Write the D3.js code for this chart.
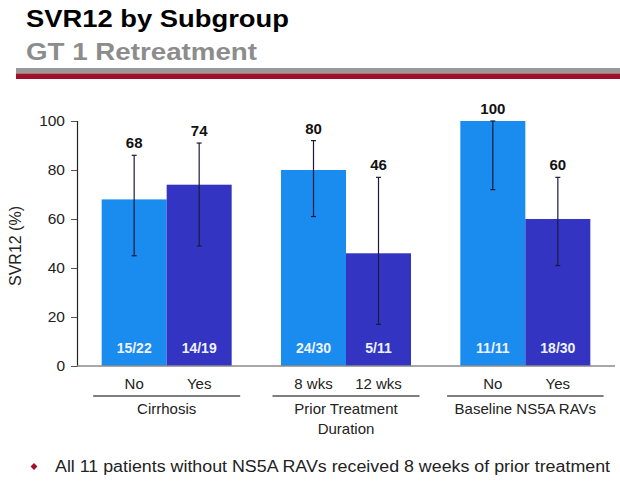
<!DOCTYPE html>
<html>
<head>
<meta charset="utf-8">
<script src="https://cdn.jsdelivr.net/npm/d3@7"></script>
<style>
html,body{margin:0;padding:0;background:#fff;}
svg{display:block;font-family:"Liberation Sans",Arial,sans-serif;}
</style>
</head>
<body>
<svg id="chart" width="620" height="488"></svg>
<script>
// ---- data ----
const groups = ["Cirrhosis", "Prior Treatment\nDuration", "Baseline NS5A RAVs"];
const subLabels = [["No", "Yes"], ["8 wks", "12 wks"], ["No", "Yes"]];
const svr = [[68, 74], [80, 46], [100, 60]];
const ciLow = [[45, 49], [61, 17], [72, 41]];
const ciHigh = [[86, 91], [92, 77], [100, 77]];
const counts = [["15/22", "14/19"], ["24/30", "5/11"], ["11/11", "18/30"]];
const yTicks = [0, 20, 40, 60, 80, 100];
const footnote = "All 11 patients without NS5A RAVs received 8 weeks of prior treatment";

const svg = d3.select("#chart");
const colors = ["#1a8cf0", "#3434c2"];

// title block
svg.append("text").attr("x", 26).attr("y", 27).attr("font-size", 24).attr("font-weight", "bold")
  .attr("fill", "#000").attr("textLength", 263).attr("lengthAdjust", "spacingAndGlyphs")
  .text("SVR12 by Subgroup");
svg.append("text").attr("x", 26).attr("y", 60).attr("font-size", 24).attr("font-weight", "bold")
  .attr("fill", "#8c8c8c").attr("textLength", 231).attr("lengthAdjust", "spacingAndGlyphs")
  .text("GT 1 Retreatment");
svg.append("rect").attr("x", 16).attr("y", 68).attr("width", 604).attr("height", 5.5).attr("fill", "#9a9a9a");
svg.append("rect").attr("x", 16).attr("y", 73.5).attr("width", 604).attr("height", 5.5).attr("fill", "#a0102a");

// scales
const y = d3.scaleLinear().domain([0, 100]).range([366, 121]);
const x0 = d3.scaleBand().domain(d3.range(groups.length)).range([77, 615]).paddingInner(0.275).paddingOuter(0.1375);
const x1 = d3.scaleBand().domain([0, 1]).range([0, x0.bandwidth()]);

// y axis
const yAxis = svg.append("g").attr("transform", "translate(77,0)")
  .call(d3.axisLeft(y).tickValues(yTicks).tickSize(6).tickPadding(6));
yAxis.select(".domain").attr("stroke", "#222").attr("stroke-width", 1.2);
yAxis.selectAll(".tick line").attr("stroke", "#555");
yAxis.selectAll("text").attr("font-size", 15.5).attr("fill", "#222").attr("font-family", "Liberation Sans, Arial, sans-serif");

svg.append("text").attr("transform", "translate(21,246) rotate(-90)").attr("text-anchor", "middle")
  .attr("font-size", 16).attr("fill", "#222").text("SVR12 (%)");

// bars
const gG = svg.selectAll("g.grp").data(groups).join("g").attr("class", "grp")
  .attr("transform", (d, i) => `translate(${x0(i)},0)`);

gG.each(function (g, gi) {
  const sel = d3.select(this);
  const items = svr[gi].map((v, j) => ({ v, j, lo: ciLow[gi][j], hi: ciHigh[gi][j], n: counts[gi][j], lab: subLabels[gi][j] }));
  sel.selectAll("rect.bar").data(items).join("rect").attr("class", "bar")
    .attr("x", d => x1(d.j)).attr("width", x1.bandwidth())
    .attr("y", d => y(d.v)).attr("height", d => y(0) - y(d.v))
    .attr("fill", d => colors[d.j]);
  // error bars
  const eb = sel.selectAll("g.eb").data(items).join("g").attr("class", "eb")
    .attr("transform", d => `translate(${x1(d.j) + x1.bandwidth() / 2},0)`);
  eb.append("line").attr("y1", d => y(d.hi)).attr("y2", d => y(d.lo)).attr("stroke", "#1a1a3a").attr("stroke-width", 1.2);
  eb.append("line").attr("x1", -2.5).attr("x2", 2.5).attr("y1", d => y(d.hi)).attr("y2", d => y(d.hi)).attr("stroke", "#1a1a3a").attr("stroke-width", 1.2);
  eb.append("line").attr("x1", -2.5).attr("x2", 2.5).attr("y1", d => y(d.lo)).attr("y2", d => y(d.lo)).attr("stroke", "#1a1a3a").attr("stroke-width", 1.2);
  // value labels
  eb.append("text").attr("y", d => y(d.hi) - 7).attr("text-anchor", "middle")
    .attr("font-size", 15).attr("font-weight", "bold").attr("fill", "#111").text(d => d.v);
  // counts
  eb.append("text").attr("y", 353).attr("text-anchor", "middle")
    .attr("font-size", 14).attr("font-weight", "bold").attr("fill", "#eef2fd").text(d => d.n);
  // sub labels
  eb.append("text").attr("y", 389).attr("text-anchor", "middle")
    .attr("font-size", 15).attr("fill", "#222").text(d => d.lab);
  // group label
  const lines = g.split("\n");
  const gl = sel.append("text").attr("text-anchor", "middle").attr("font-size", 15).attr("fill", "#222");
  lines.forEach((l, k) => gl.append("tspan").attr("x", x0.bandwidth() / 2).attr("y", 414 + k * 20).text(l));
  let tw = 0;
  gl.selectAll("tspan").each(function () { tw = Math.max(tw, this.getComputedTextLength()); });
  const half = Math.max(x0.bandwidth() / 2 + 8.5, tw / 2 + 7.5);
  sel.append("line").attr("x1", x0.bandwidth() / 2 - half).attr("x2", x0.bandwidth() / 2 + half)
    .attr("y1", 396).attr("y2", 396).attr("stroke", "#555").attr("stroke-width", 1.3);
});

// x axis baseline
svg.append("line").attr("x1", 77).attr("x2", 615).attr("y1", y(0)).attr("y2", y(0))
  .attr("stroke", "#8a8a8a").attr("stroke-width", 1.6);

// footnote
svg.append("path").attr("d", d3.symbol(d3.symbolDiamond2, 30)()).attr("transform", "translate(34,466.5)").attr("fill", "#a0102a");
svg.append("text").attr("x", 55).attr("y", 472).attr("font-size", 16).attr("fill", "#222")
  .attr("textLength", 555).attr("lengthAdjust", "spacingAndGlyphs").text(footnote);
</script>
</body>
</html>
